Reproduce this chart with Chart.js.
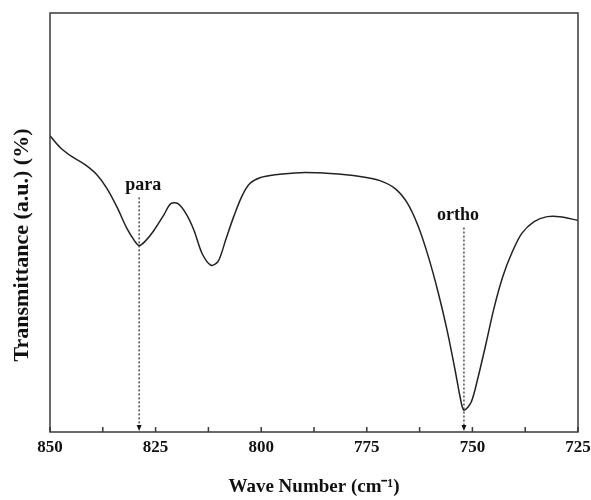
<!DOCTYPE html>
<html>
<head>
<meta charset="utf-8">
<script src="https://cdn.jsdelivr.net/npm/chart.js@4/dist/chart.umd.min.js"></script>
<style>
  html, body { margin: 0; padding: 0; background: #fff; }
  #wrap { width: 591px; height: 500px; }
</style>
</head>
<body>
<div id="wrap"><canvas id="irChart"></canvas></div>
<script>
// spectrum (arbitrary transmittance units)
const waveNumbers = [850, 847.6, 844.8, 841.7, 838.9, 836.5, 834.1, 831.8, 829.9, 828.9,
  827.5, 825.4, 823.0, 821.4, 819.7, 817.8, 815.9, 814.0, 811.9, 810.2,
  808.3, 806.4, 804.5, 802.7, 800.3, 796.7, 790.8, 783.7, 776.6, 771.9,
  768.3, 765.5, 762.9, 760.5, 758.1, 756.0, 754.1, 752.9, 752.0, 750.3,
  748.7, 746.8, 744.9, 742.8, 740.6, 738.3, 735.4, 732.3, 729.3, 725.0];
const transmittance = [70.7, 67.9, 65.7, 63.8, 61.4, 58.1, 53.6, 48.6, 45.5, 44.5,
  45.5, 48.1, 51.9, 54.5, 54.5, 52.1, 48.1, 42.6, 39.8, 40.7,
  46.2, 51.7, 56.4, 59.3, 60.7, 61.4, 61.9, 61.7, 61.0, 60.0,
  58.1, 54.8, 49.3, 42.1, 33.3, 24.3, 14.8, 8.3, 5.2, 7.1,
  12.9, 21.0, 29.5, 37.1, 42.9, 47.4, 50.2, 51.4, 51.4, 50.5];

const majorTicks = [850, 825, 800, 775, 750, 725];
const minorTicks = [837.5, 812.5, 787.5, 762.5, 737.5];

// peak markers: label, wave number, top of the dotted arrow
const peakLabels = ["para", "ortho"];
const peakPositions = [828.9, 752.0];
const peakArrowTops = [56, 48.8];

const serif = "'Liberation Serif', 'Times New Roman', serif";
const yTitle = "Transmittance (a.u.) (%)";

/* ================= custom drawing: frame, inward ticks, arrows, y title ================= */

const decorPlugin = {
  id: "decor",
  afterDraw(chart) {
    const { ctx, chartArea: a, scales } = chart;
    const xs = scales.x, ys = scales.y;
    ctx.save();

    // box frame
    ctx.strokeStyle = "#3a3a3a";
    ctx.lineWidth = 1.5;
    ctx.strokeRect(a.left, a.top, a.right - a.left, a.bottom - a.top);

    // inward ticks on the bottom axis
    ctx.beginPath();
    majorTicks.concat(minorTicks).forEach(v => {
      const px = xs.getPixelForValue(v);
      ctx.moveTo(px, a.bottom);
      ctx.lineTo(px, a.bottom - 5);
    });
    ctx.stroke();

    // dotted arrows with labels
    ctx.font = "bold 18px " + serif;
    ctx.textAlign = "center";
    ctx.textBaseline = "bottom";
    peakLabels.forEach((lab, i) => {
      const px = xs.getPixelForValue(peakPositions[i]);
      const top = ys.getPixelForValue(peakArrowTops[i]);
      ctx.fillStyle = "#111";
      ctx.fillText(lab, px + (i === 0 ? 4 : -6), top - 3);

      ctx.strokeStyle = "#222";
      ctx.lineWidth = 1.2;
      ctx.setLineDash([2, 2]);
      ctx.beginPath();
      ctx.moveTo(px, top);
      ctx.lineTo(px, a.bottom - 6);
      ctx.stroke();
      ctx.setLineDash([]);

      ctx.beginPath();
      ctx.moveTo(px - 2.5, a.bottom - 7);
      ctx.lineTo(px + 2.5, a.bottom - 7);
      ctx.lineTo(px, a.bottom - 1);
      ctx.closePath();
      ctx.fill();
    });

    // rotated y title, sitting a bit below the centre as in the original
    ctx.translate(22, 245);
    ctx.rotate(-Math.PI / 2);
    ctx.font = "bold 22px " + serif;
    ctx.textBaseline = "middle";
    ctx.fillStyle = "#111";
    ctx.fillText(yTitle, 0, 0);
    ctx.restore();
  }
};

/* ================= IR spectrum line ================= */

const ctx = document.getElementById("irChart");

new Chart(ctx, {
  type: "line",
  data: {
    datasets: [
      {
        data: waveNumbers.map((w, i) => ({ x: w, y: transmittance[i] })),
        borderColor: "#222",
        borderWidth: 1.5,
        pointRadius: 0,
        tension: 0.3,
        fill: false,
      },
    ],
  },
  options: {
    responsive: true,
    maintainAspectRatio: false,
    animation: false,
    layout: { padding: { top: 13, right: 13, left: 0, bottom: 0 } },
    plugins: {
      legend: { display: false },
      tooltip: { enabled: false },
    },
    scales: {
      x: {
        type: "linear",
        reverse: true,
        min: 725,
        max: 850,
        afterBuildTicks(scale) {
          scale.ticks = majorTicks.map(v => ({ value: v }));
        },
        afterFit(scale) {
          scale.height = 68;
          scale.paddingLeft = 0;
          scale.paddingRight = 0;
        },
        grid: { display: false, drawTicks: false },
        border: { display: false },
        ticks: {
          color: "#111",
          padding: 5,
          maxRotation: 0,
          font: { family: serif, size: 17, weight: "bold" },
        },
        title: {
          display: true,
          text: "Wave Number (cm\u207B\u00B9)",
          color: "#111",
          padding: { top: 0, bottom: 2 },
          font: { family: serif, size: 19, weight: "bold" },
        },
      },
      y: {
        min: 0,
        max: 100,
        afterFit(scale) {
          scale.width = 50;
        },
        grid: { display: false, drawTicks: false },
        border: { display: false },
        ticks: { display: false },
        title: { display: false },
      },
    },
  },
  plugins: [decorPlugin],
});
</script>
</body>
</html>
